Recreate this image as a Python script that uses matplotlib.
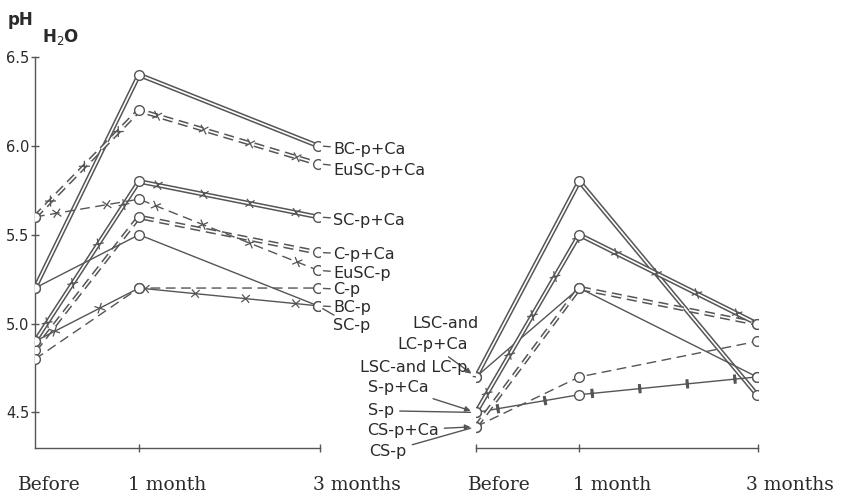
import matplotlib
matplotlib.use('Agg')
import matplotlib.pyplot as plt
import matplotlib.patheffects as pe


# time points (Before, 1 month, 3 months) on the drawn time axis
times = [0, 1, 2.72]
time_labels = ['Before', '1 month', '3 months']

# left panel: pH(H2O) per soil
left_names = ['BC-p+Ca', 'EuSC-p+Ca', 'SC-p+Ca', 'C-p+Ca', 'EuSC-p', 'C-p', 'BC-p', 'SC-p']
bc_p_ca = [5.2, 6.4, 6.0]
eusc_p_ca = [5.6, 6.2, 5.9]
sc_p_ca = [4.9, 5.8, 5.6]
c_p_ca = [4.85, 5.6, 5.4]
eusc_p = [5.6, 5.7, 5.3]
c_p = [4.8, 5.2, 5.2]
bc_p = [5.2, 5.5, 5.1]
sc_p = [4.9, 5.2, 5.1]

# right panel
right_names = ['LSC-and LC-p+Ca', 'LSC-and LC-p', 'S-p+Ca', 'S-p', 'CS-p+Ca', 'CS-p']
lsc_p_ca = [4.7, 5.8, 4.6]
lsc_p = [4.7, 5.2, 4.7]
s_p_ca = [4.5, 5.5, 5.0]
s_p = [4.5, 4.6, 4.7]
cs_p_ca = [4.42, 5.2, 5.0]
cs_p = [4.42, 4.7, 4.9]

yticks = [4.5, 5.0, 5.5, 6.0, 6.5]

GRAY = '#555555'
TXT = '#2a2a2a'


def crosses(ax, y, spacing=32, length=0.11, lw=0.9):
    eff = [pe.TickedStroke(spacing=spacing, angle=a, length=length,
                           linewidth=lw, foreground=GRAY)
           for a in (45, 135, -45, -135)]
    ax.plot(times, y, '-', color=GRAY, path_effects=eff, zorder=4)


def blobs(ax, y):
    eff = [pe.TickedStroke(spacing=32, angle=a, length=0.07,
                           linewidth=2.2, foreground=GRAY)
           for a in (90, -90)]
    ax.plot(times, y, '-', color=GRAY, path_effects=eff, zorder=4)


def single(ax, y, dashed=False, cross=False):
    if dashed:
        ax.plot(times, y, color=GRAY, lw=1.0, dashes=(7, 4), zorder=3)
    else:
        ax.plot(times, y, color=GRAY, lw=1.0, zorder=3)
    if cross:
        crosses(ax, y)
    ax.plot(times, y, 'o', ms=7, mfc='white', mec=GRAY, mew=1.0, zorder=6)


def double(ax, y, dashed=False, cross=False):
    eff = [pe.Stroke(linewidth=3.4, foreground=GRAY), pe.Normal()]
    if dashed:
        ax.plot(times, y, color='white', lw=1.2, dashes=(6, 3.5),
                path_effects=eff, zorder=3)
    else:
        ax.plot(times, y, color='white', lw=1.2, path_effects=eff, zorder=3)
    if cross:
        crosses(ax, y)
    ax.plot(times, y, 'o', ms=7, mfc='white', mec=GRAY, mew=1.0, zorder=6)


def style_axis(ax, xmax, show_y):
    ax.set_xlim(0, xmax)
    ax.set_ylim(4.3, 6.5)
    ax.spines['top'].set_visible(False)
    ax.spines['right'].set_visible(False)
    for s in ax.spines.values():
        s.set_color(GRAY)
        s.set_linewidth(1.0)
    ax.tick_params(axis='both', direction='inout', length=6, width=1.0,
                   colors=GRAY, labelcolor=TXT, labelsize=10.5)
    ax.set_xticklabels([])
    if show_y:
        ax.set_yticks(yticks)
        ax.set_yticklabels([f'{v:.1f}' for v in yticks])
        ax.tick_params(axis='y', pad=1)
    else:
        ax.spines['left'].set_visible(False)
        ax.set_yticks([])


def main():
    fig = plt.figure(figsize=(8.53, 4.97), dpi=100)
    W, H = 853, 497

    ax1 = fig.add_axes([35 / W, 49 / H, 285 / W, 391 / H])
    ax2 = fig.add_axes([476 / W, 49 / H, 282 / W, 391 / H])
    style_axis(ax1, 2.74, True)
    style_axis(ax2, 2.73, False)
    ax1.set_xticks([1, 2.74])
    ax1.set_xticklabels(['', ''])
    ax2.set_xticks([0, 1, 2.73])
    ax2.set_xticklabels(['', '', ''])

    # left panel
    double(ax1, bc_p_ca)
    double(ax1, eusc_p_ca, dashed=True, cross=True)
    double(ax1, sc_p_ca, cross=True)
    double(ax1, c_p_ca, dashed=True)
    single(ax1, eusc_p, dashed=True, cross=True)
    single(ax1, c_p, dashed=True)
    single(ax1, bc_p)
    single(ax1, sc_p, cross=True)

    left_series = [bc_p_ca, eusc_p_ca, sc_p_ca, c_p_ca, eusc_p, c_p, bc_p, sc_p]
    left_label_y = [5.98, 5.86, 5.58, 5.39, 5.28, 5.19, 5.09, 4.99]
    for name, ser, ly in zip(left_names, left_series, left_label_y):
        ax1.annotate(name, xy=(times[-1], ser[-1]), xytext=(2.865, ly),
                     ha='left', va='center', fontsize=11.5, color=TXT,
                     annotation_clip=False,
                     arrowprops=dict(arrowstyle='-', color=GRAY, lw=1.0,
                                     shrinkA=0, shrinkB=4))

    # right panel
    double(ax2, lsc_p_ca)
    single(ax2, lsc_p)
    double(ax2, s_p_ca, cross=True)
    ax2.plot(times, s_p, color=GRAY, lw=1.0, zorder=3)
    blobs(ax2, s_p)
    ax2.plot(times, s_p, 'o', ms=7, mfc='white', mec=GRAY, mew=1.0, zorder=6)
    double(ax2, cs_p_ca, dashed=True)
    single(ax2, cs_p, dashed=True)

    ax2.text(-0.62, 5.0, 'LSC-and', ha='left', va='center', fontsize=11.5,
             color=TXT, clip_on=False)
    right_labels = [
        ('LC-p+Ca', (-0.765, 4.88), lsc_p_ca[0], '-|>'),
        ('LSC-and LC-p', (-1.12, 4.755), lsc_p[0], '-'),
        ('S-p+Ca', (-1.045, 4.64), s_p_ca[0], '-|>'),
        ('S-p', (-1.045, 4.51), s_p[0], '-'),
        ('CS-p+Ca', (-1.055, 4.40), cs_p_ca[0], '-|>'),
        ('CS-p', (-1.03, 4.28), cs_p[0], '-'),
    ]
    for name, pos, yv, style in right_labels:
        ax2.annotate(name, xy=(0, yv), xytext=pos, ha='left', va='center',
                     fontsize=11.5, color=TXT, annotation_clip=False,
                     arrowprops=dict(arrowstyle=style, color=GRAY, lw=1.0,
                                     mutation_scale=8, shrinkA=2, shrinkB=4))

    # time labels
    left_tx = [-0.163, 0.894, 2.673]
    right_tx = [-0.08, 0.94, 2.61]
    for ax, xs in ((ax1, left_tx), (ax2, right_tx)):
        for lab, x in zip(time_labels, xs):
            ax.text(x, 4.09, lab, ha='left', va='center', family='DejaVu Serif',
                    fontsize=13.5, color=TXT, clip_on=False)

    fig.text(8 / W, 1 - 20 / H, 'pH', ha='left', va='center', fontsize=12,
             color=TXT, fontweight='bold')
    fig.text(42 / W, 1 - 37 / H, 'H$_2$O', ha='left', va='center',
             fontsize=12, color=TXT, fontweight='bold')

    fig.savefig('out.png', dpi=100, facecolor='white')


if __name__ == '__main__':
    main()
